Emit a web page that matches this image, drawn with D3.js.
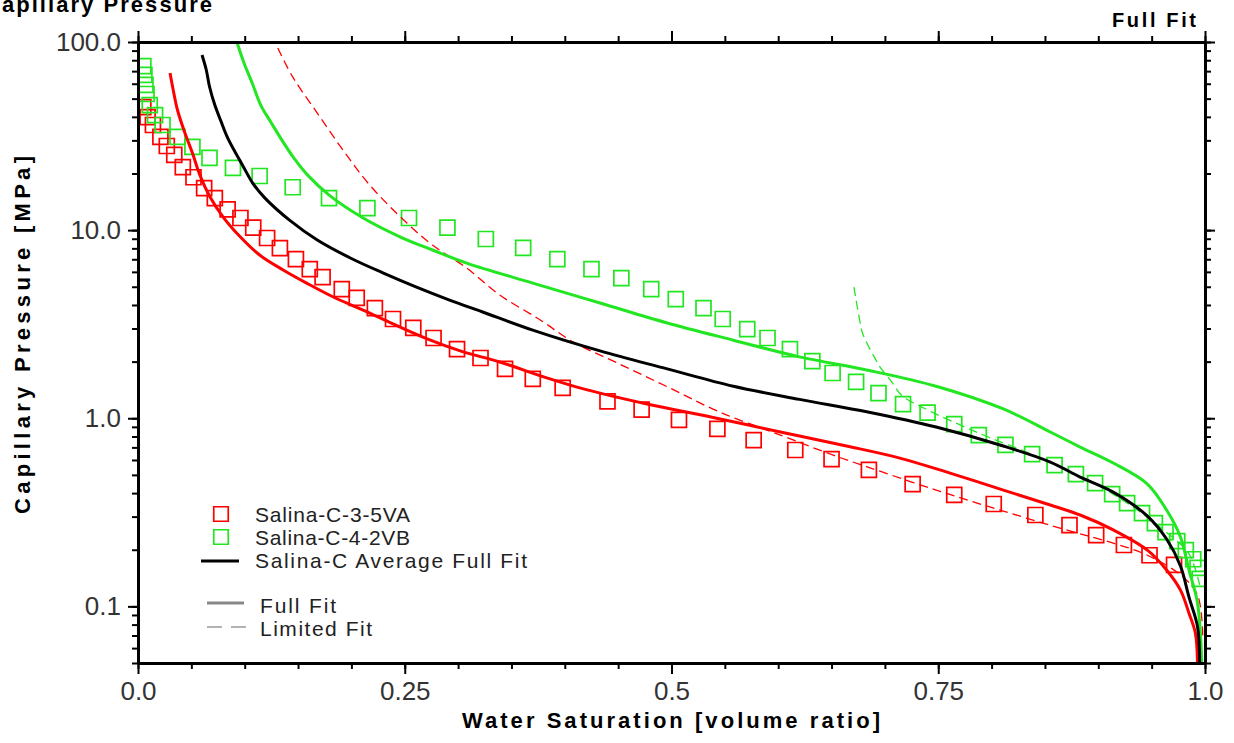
<!DOCTYPE html>
<html>
<head>
<meta charset="utf-8">
<script src="https://cdn.jsdelivr.net/npm/d3@7"></script>
<style>
body{margin:0;background:#fff;}
svg{display:block;}
text{font-family:"Liberation Sans",Arial,sans-serif;}
</style>
</head>
<body>
<svg id="chart" width="1234" height="743"></svg>
<script>
'use strict';
/*
 *
 *	Data
 *
 */
// measured points, sample Salina-C-3-5VA
var swA = [0.005,0.009,0.014,0.021,0.027,0.034,0.042,0.052,0.062,0.072,0.084,0.096,0.108,0.121,0.133,0.148,0.161,0.173,0.191,0.205,0.222,0.239,0.258,0.277,0.299,0.321,0.344,0.370,0.398,0.440,0.472,0.507,0.543,0.577,0.616,0.650,0.685,0.726,0.765,0.802,0.841,0.873,0.898,0.924,0.948,0.971];
var pcA = [45.1,39.9,36.2,31.3,28.0,25.1,21.6,19.1,16.7,14.8,12.9,11.6,10.3,9.08,8.03,7.02,6.21,5.63,4.86,4.36,3.85,3.37,3.02,2.67,2.33,2.09,1.83,1.62,1.45,1.23,1.11,0.98,0.877,0.766,0.678,0.607,0.531,0.447,0.391,0.350,0.306,0.270,0.239,0.212,0.187,0.166];
// measured points, sample Salina-C-4-2VB
var swB = [0.005,0.006,0.007,0.008,0.011,0.016,0.023,0.037,0.051,0.067,0.089,0.114,0.145,0.179,0.215,0.254,0.290,0.326,0.361,0.393,0.425,0.453,0.481,0.504,0.530,0.548,0.571,0.590,0.611,0.632,0.651,0.673,0.694,0.717,0.740,0.765,0.788,0.813,0.838,0.859,0.879,0.897,0.913,0.927,0.941,0.953,0.963,0.974,0.982,0.989,0.993,0.995];
var pcB = [74.5,66.8,59.1,52.9,46.2,40.9,36.2,31.3,27.7,24.2,21.4,19.4,16.9,14.8,13.1,11.6,10.3,8.97,8.04,7.02,6.21,5.56,4.86,4.30,3.85,3.37,2.98,2.67,2.33,2.01,1.74,1.56,1.36,1.19,1.07,0.931,0.814,0.721,0.645,0.564,0.505,0.452,0.395,0.354,0.313,0.277,0.248,0.222,0.199,0.178,0.160,0.140];

// full fit, Salina-C-3-5VA
var fitA_sw = [0.030,0.033,0.037,0.044,0.051,0.058,0.067,0.080,0.096,0.114,0.136,0.158,0.183,0.211,0.239,0.271,0.302,0.339,0.383,0.414,0.477,0.539,0.602,0.664,0.714,0.761,0.811,0.855,0.883,0.914,0.946,0.964,0.977,0.985,0.991,0.993];
var fitA_pc = [68.4,55.6,43.5,32.8,25.7,19.6,15.2,11.7,9.19,7.37,6.14,5.23,4.41,3.76,3.17,2.64,2.28,1.99,1.64,1.45,1.19,1.01,0.845,0.712,0.614,0.511,0.415,0.346,0.306,0.255,0.199,0.156,0.122,0.092,0.072,0.050];
// full fit, Salina-C-4-2VB
var fitB_sw = [0.093,0.099,0.107,0.115,0.125,0.136,0.146,0.159,0.180,0.211,0.246,0.276,0.308,0.370,0.433,0.496,0.558,0.620,0.684,0.748,0.811,0.855,0.883,0.914,0.946,0.964,0.977,0.985,0.993,0.997];
var fitB_pc = [98.8,78.3,60.5,46.2,37.1,29.4,24.2,19.6,15.2,11.6,9.19,7.84,6.68,5.23,4.10,3.21,2.60,2.12,1.80,1.48,1.12,0.845,0.703,0.578,0.447,0.325,0.234,0.156,0.104,0.050];
// average full fit
var avg_sw = [0.060,0.064,0.067,0.072,0.078,0.084,0.099,0.108,0.119,0.142,0.168,0.199,0.230,0.261,0.292,0.323,0.370,0.433,0.496,0.558,0.620,0.684,0.748,0.811,0.855,0.883,0.914,0.946,0.964,0.977,0.985,0.993,0.995];
var avg_pc = [85.3,71.0,58.0,46.2,37.6,30.9,21.6,17.6,14.8,11.3,8.86,7.11,5.91,4.98,4.25,3.67,2.94,2.28,1.83,1.48,1.26,1.08,0.898,0.712,0.585,0.487,0.405,0.302,0.228,0.164,0.112,0.078,0.050];
// limited fit, Salina-C-3-5VA
var limA_sw = [0.131,0.145,0.168,0.192,0.217,0.252,0.276,0.308,0.339,0.377,0.408,0.449,0.496,0.545,0.602,0.651,0.684,0.748,0.811,0.874,0.914,0.946,0.977,0.993,0.998];
var limA_pc = [92.9,65.2,41.9,26.7,17.4,10.9,8.33,6.29,4.52,3.33,2.54,1.97,1.47,1.08,0.814,0.638,0.550,0.415,0.321,0.251,0.217,0.187,0.147,0.115,0.066];
// limited fit, Salina-C-4-2VB
var limB_sw = [0.671,0.673,0.676,0.679,0.684,0.690,0.696,0.705,0.716,0.741,0.769,0.798,0.836,0.874,0.906,0.935,0.963,0.985,0.995];
var limB_pc = [4.98,4.25,3.41,2.84,2.45,2.12,1.85,1.60,1.32,1.10,0.93,0.79,0.65,0.52,0.42,0.33,0.25,0.19,0.13];

// axis ticks
var xTicks = [0, 0.25, 0.5, 0.75, 1];
var xTickLabels = ["0.0", "0.25", "0.5", "0.75", "1.0"];
var yTicks = [100, 10, 1, 0.1];
var yTickLabels = ["100.0", "10.0", "1.0", "0.1"];

var RED = "#ff0000", GREEN = "#22e622";

/*
 *
 *	Scales
 *
 */
var plotL = 138, plotR = 1205, plotT = 42, plotB = 663;
var x = d3.scaleLinear().domain([0, 1]).range([plotL, plotR]);
var y = d3.scaleLog().domain([0.05, 100]).range([plotB, plotT]);
var svg = d3.select('#chart');

var line = d3.line()
	.x(function(d){ return x(d[0]); })
	.y(function(d){ return y(d[1]); })
	.curve(d3.curveCatmullRom.alpha(0.5));

svg.append('clipPath').attr('id', 'plotClip')
	.append('rect')
	.attr('x', plotL).attr('y', plotT)
	.attr('width', plotR - plotL).attr('height', plotB - plotT);

var plot = svg.append('g').attr('clip-path', 'url(#plotClip)');

/*
 *
 *	Marks
 *
 */
function drawSquares(sw, pc, color){
	plot.append('g').selectAll('path')
		.data(d3.zip(sw, pc))
		.enter().append('path')
		.attr('d', d3.symbol(d3.symbolSquare, 225))
		.attr('transform', function(d){ return 'translate(' + x(d[0]) + ',' + y(d[1]) + ')'; })
		.attr('fill', 'none')
		.attr('stroke', color)
		.attr('stroke-width', 1.7);
}
function drawCurve(sw, pc, color, dashed){
	plot.append('path')
		.datum(d3.zip(sw, pc))
		.attr('d', line)
		.attr('fill', 'none')
		.attr('stroke', color)
		.attr('stroke-width', dashed ? 1.3 : 3)
		.attr('stroke-dasharray', dashed ? '9,5' : null);
}

drawSquares(swA, pcA, RED);
drawSquares(swB, pcB, GREEN);
drawCurve(limA_sw, limA_pc, RED, true);
drawCurve(limB_sw, limB_pc, GREEN, true);
drawCurve(fitA_sw, fitA_pc, RED, false);
drawCurve(fitB_sw, fitB_pc, GREEN, false);
drawCurve(avg_sw, avg_pc, '#000', false);

/*
 *
 *	Axes
 *
 */
var minorX = d3.range(0, 1.0001, 0.05);
var minorY = y.ticks();

function addAxis(axis, tx, ty){
	var g = svg.append('g')
		.attr('transform', 'translate(' + tx + ',' + ty + ')')
		.call(axis.tickSizeOuter(0));
	g.select('.domain').attr('stroke', '#000').attr('stroke-width', 3);
	g.selectAll('.tick line').attr('stroke', '#000').attr('stroke-width', 2);
	g.selectAll('.tick text')
		.attr('fill', '#333')
		.style('font-size', '26px');
	return g;
}

addAxis(d3.axisBottom(x).tickValues(minorX).tickSize(6).tickFormat(''), 0, plotB);
addAxis(d3.axisBottom(x).tickValues(xTicks).tickSize(11).tickPadding(8)
	.tickFormat(function(d, i){ return xTickLabels[i]; }), 0, plotB);
addAxis(d3.axisTop(x).tickValues(minorX).tickSize(6).tickFormat(''), 0, plotT);
addAxis(d3.axisTop(x).tickValues(xTicks).tickSize(11).tickFormat(''), 0, plotT);
addAxis(d3.axisLeft(y).tickValues(minorY).tickSize(6).tickFormat(''), plotL, 0);
addAxis(d3.axisLeft(y).tickValues(yTicks).tickSize(10).tickPadding(7)
	.tickFormat(function(d, i){ return yTickLabels[i]; }), plotL, 0);
addAxis(d3.axisRight(y).tickValues(minorY).tickSize(6).tickFormat(''), plotR, 0);
addAxis(d3.axisRight(y).tickValues(yTicks).tickSize(10).tickFormat(''), plotR, 0);

/*
 *
 *	Titles
 *
 */
// page title, clipped by the top edge as in the source
svg.append('text').text('Capillary Pressure')
	.attr('x', -16).attr('y', 12)
	.attr('textLength', 228)
	.style('font-size', '22px').style('font-weight', 'bold');

svg.append('text').text('Full Fit')
	.attr('x', 1112).attr('y', 27)
	.attr('textLength', 84)
	.style('font-size', '20px').style('font-weight', 'bold');

svg.append('text').text('Water Saturation [volume ratio]')
	.attr('x', 671).attr('y', 728)
	.attr('text-anchor', 'middle')
	.attr('textLength', 418)
	.style('font-size', '22px').style('font-weight', 'bold');

svg.append('text').text('Capillary Pressure [MPa]')
	.attr('transform', 'translate(30,335) rotate(-90)')
	.attr('text-anchor', 'middle')
	.attr('textLength', 358)
	.style('font-size', '22px').style('font-weight', 'bold');

/*
 *
 *	Legend
 *
 */
var legendNames = ["Salina-C-3-5VA", "Salina-C-4-2VB", "Salina-C Average Full Fit", "Full Fit", "Limited Fit"];
var legend = svg.append('g');

legend.append('path').attr('d', d3.symbol(d3.symbolSquare, 210))
	.attr('transform', 'translate(221,514)')
	.attr('fill', 'none').attr('stroke', RED).attr('stroke-width', 1.7);
legend.append('path').attr('d', d3.symbol(d3.symbolSquare, 210))
	.attr('transform', 'translate(221,537)')
	.attr('fill', 'none').attr('stroke', GREEN).attr('stroke-width', 1.7);
legend.append('line').attr('x1', 201).attr('x2', 239).attr('y1', 561).attr('y2', 561)
	.attr('stroke', '#000').attr('stroke-width', 3);
legend.append('line').attr('x1', 207).attr('x2', 244).attr('y1', 603).attr('y2', 603)
	.attr('stroke', '#888').attr('stroke-width', 3);
legend.append('line').attr('x1', 207).attr('x2', 246).attr('y1', 627).attr('y2', 627)
	.attr('stroke', '#999').attr('stroke-width', 1.5).attr('stroke-dasharray', '15,9');

var legendX = [255, 255, 255, 260, 260];
var legendY = [522, 545, 568, 613, 636];
var legendLen = [155, 155, 272, 76, 112];
legend.selectAll('text.lg')
	.data(legendNames)
	.enter().append('text')
	.attr('class', 'lg')
	.attr('x', function(d, i){ return legendX[i]; })
	.attr('y', function(d, i){ return legendY[i]; })
	.attr('textLength', function(d, i){ return legendLen[i]; })
	.attr('fill', '#222')
	.style('font-size', '21px')
	.text(function(d){ return d; });
</script>
</body>
</html>
